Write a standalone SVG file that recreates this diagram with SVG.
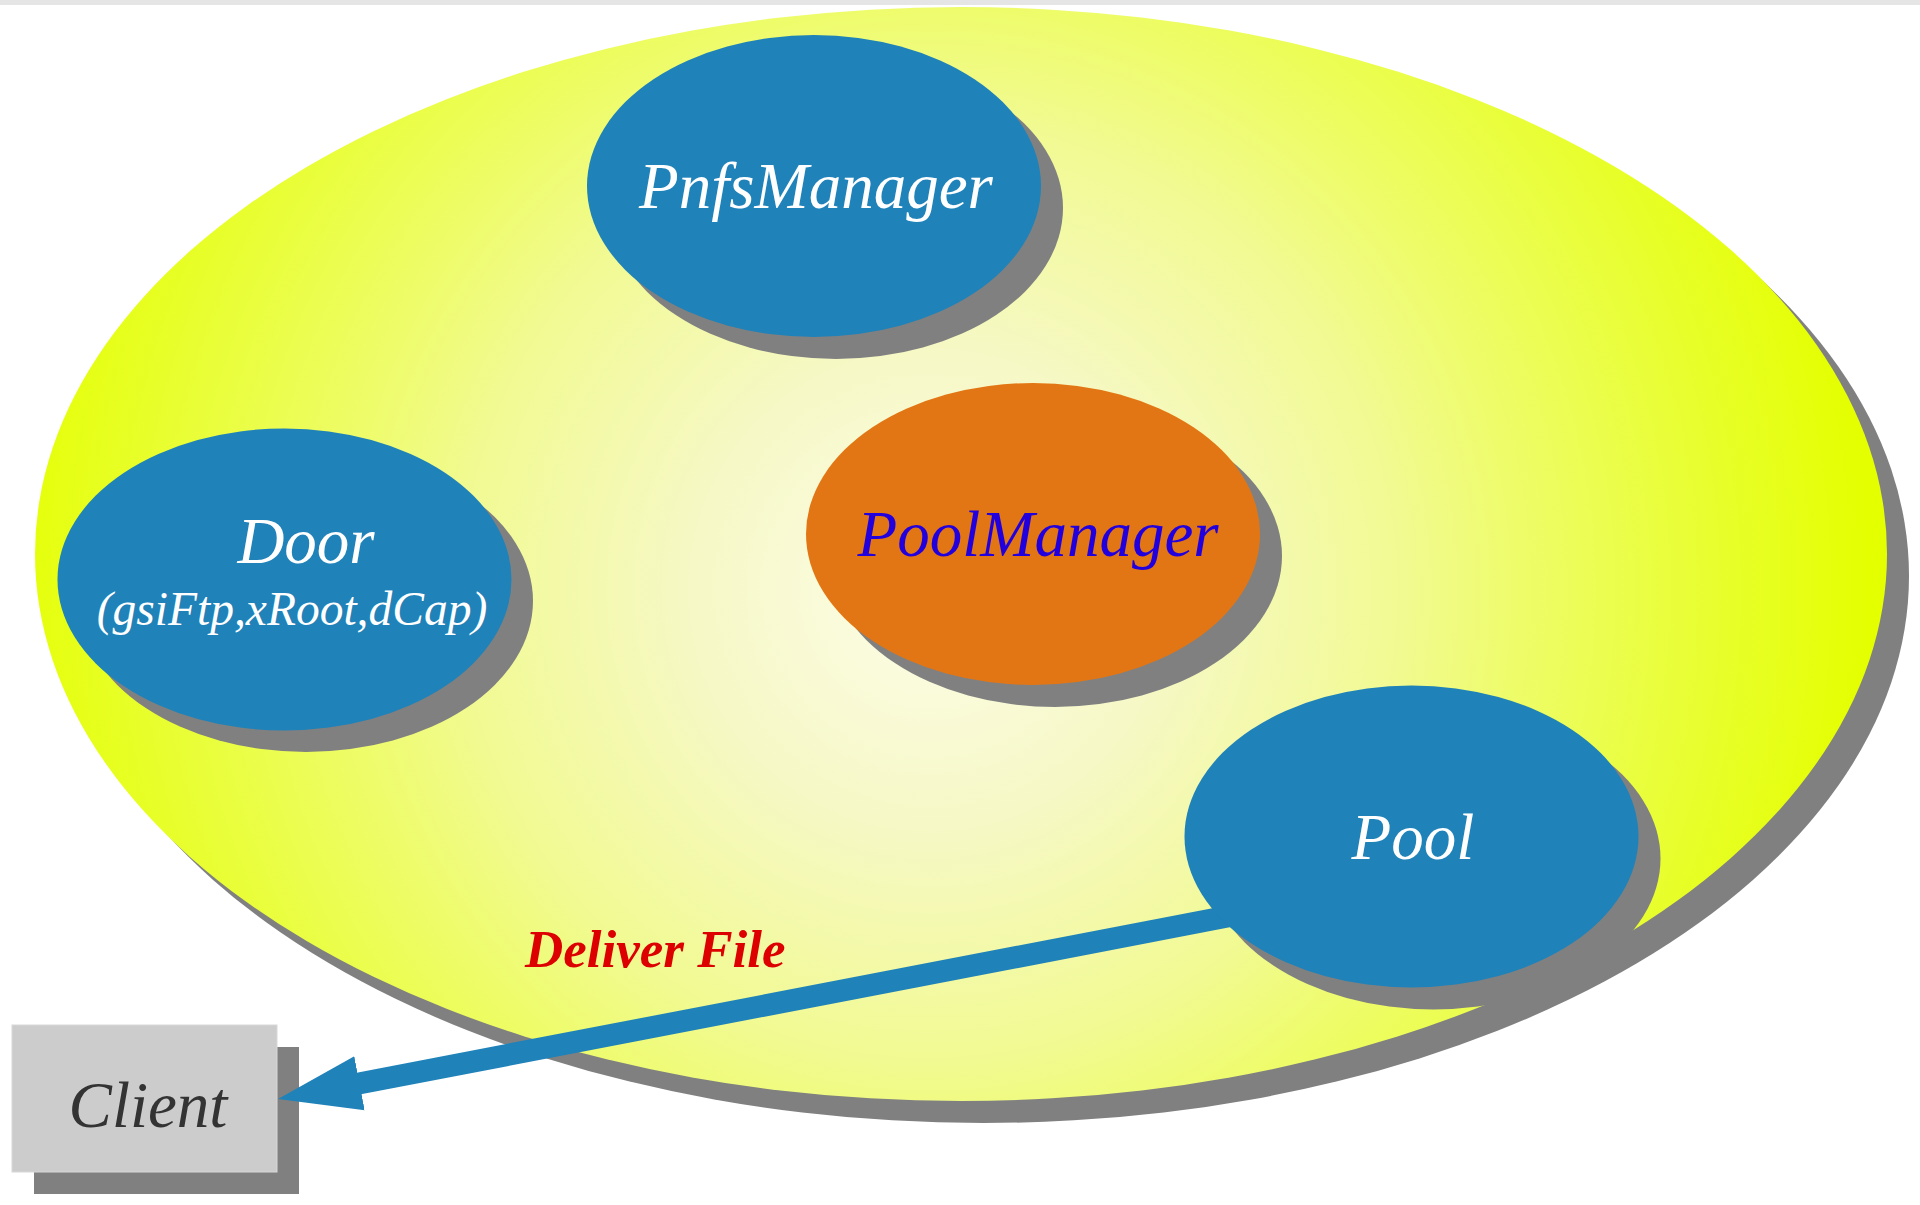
<svg xmlns="http://www.w3.org/2000/svg" width="1920" height="1205" viewBox="0 0 1920 1205">
  <defs>
    <radialGradient id="bigFill" gradientUnits="userSpaceOnUse" cx="930" cy="590" r="940">
      <stop offset="0" stop-color="#fdfde9"/>
      <stop offset="0.25" stop-color="#f6f8c6"/>
      <stop offset="0.5" stop-color="#f1fa92"/>
      <stop offset="0.62" stop-color="#eefc6c"/>
      <stop offset="0.8" stop-color="#e9fe38"/>
      <stop offset="1" stop-color="#e4ff00"/>
    </radialGradient>
    <marker id="arrowHead" markerUnits="userSpaceOnUse" markerWidth="90" markerHeight="60" viewBox="0 -30 90 60" refX="6" refY="0" orient="auto">
      <path d="M0,-27.5 L83,0 L0,27.5 Z" fill="#1f82b9"/>
    </marker>
  </defs>
  <style>
    .shadow { fill: #808080; }
    .blue { fill: #1f82b9; }
    .orange { fill: #e37614; }
    .label { font-family: "Liberation Serif", "Times New Roman", serif; font-style: italic; text-anchor: middle; }
    .white { fill: #ffffff; }
    .conn { stroke: #1f82b9; stroke-width: 22; fill: none; }
  </style>

  <rect x="0" y="0" width="1920" height="1205" fill="#ffffff"/>
  <rect x="0" y="0" width="1920" height="5" fill="#e5e5e5"/>

  <g id="domain">
    <ellipse class="shadow" cx="983" cy="576" rx="926" ry="547"/>
    <ellipse cx="961" cy="554" rx="926" ry="547" fill="url(#bigFill)"/>
  </g>

  <g id="door">
    <ellipse class="shadow" cx="306" cy="601" rx="227" ry="151"/>
    <ellipse class="blue" cx="284.5" cy="579.5" rx="227" ry="151"/>
    <text class="label white" x="306" y="563" font-size="65">Door</text>
    <text class="label white" x="292" y="625" font-size="47.5">(gsiFtp,xRoot,dCap)</text>
  </g>

  <g id="pnfsmanager">
    <ellipse class="shadow" cx="836" cy="208" rx="227" ry="151"/>
    <ellipse class="blue" cx="814" cy="186" rx="227" ry="151"/>
    <text class="label white" x="816" y="208" font-size="65">PnfsManager</text>
  </g>

  <g id="poolmanager">
    <ellipse class="shadow" cx="1055" cy="556" rx="227" ry="151"/>
    <ellipse class="orange" cx="1033" cy="534" rx="227" ry="151"/>
    <text class="label" x="1038" y="556" font-size="65" fill="#2200dd">PoolManager</text>
  </g>

  <g id="client">
    <rect class="shadow" x="34" y="1047" width="265" height="147"/>
    <rect x="12" y="1025" width="265" height="147" fill="#cccccc" stroke="#d8d8d8" stroke-width="1"/>
    <text class="label" x="148" y="1127" font-size="65" fill="#333333">Client</text>
  </g>

  <g id="connectors">
    <line class="conn" x1="1260" y1="910.3" x2="353.6" y2="1084.5" marker-end="url(#arrowHead)"/>
    <text x="525" y="967" font-family="Liberation Serif, Times New Roman, serif" font-style="italic" font-weight="bold" font-size="53" fill="#dd0000">Deliver File</text>
  </g>

  <g id="pool">
    <ellipse class="shadow" cx="1433.5" cy="858.5" rx="227" ry="151"/>
    <ellipse class="blue" cx="1411.5" cy="836.5" rx="227" ry="151"/>
    <text class="label white" x="1413" y="859" font-size="65">Pool</text>
  </g>
</svg>
